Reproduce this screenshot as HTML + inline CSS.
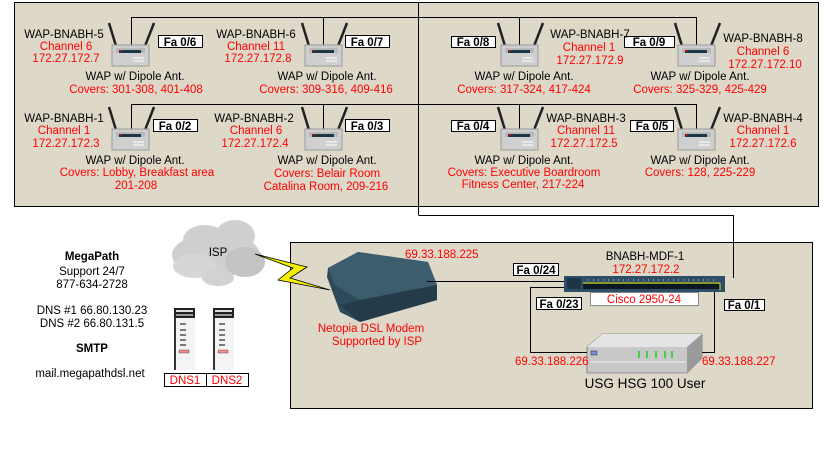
<!DOCTYPE html>
<html><head><meta charset="utf-8"><style>
html,body{margin:0;padding:0;background:#fff;}
svg{display:block;font-family:"Liberation Sans",Arial,sans-serif;font-size:11.5px;}
.r{fill:#ff0000;}
.k{fill:#000;}
.fa{font-weight:bold;font-size:11.5px;}
</style></head><body>
<svg width="833" height="458" viewBox="0 0 833 458" xmlns="http://www.w3.org/2000/svg">
<defs>
<g id="wap">
 <line x1="-21" y1="-22" x2="-14" y2="1" stroke="#222" stroke-width="2.5"/>
 <line x1="24" y1="-22" x2="15" y2="1" stroke="#222" stroke-width="2.5"/>
 <rect x="-18" y="0" width="37" height="21" fill="#cfcfcf" stroke="#9a9a9a"/>
 <rect x="-14" y="3" width="29" height="5" fill="#b8b8b8"/>
 <rect x="-11" y="5" width="22" height="3" fill="#183848"/>
 <rect x="-10" y="5" width="2" height="1.5" fill="#e00"/>
 <line x1="3" y1="13" x2="14" y2="13" stroke="#fff"/>
 <line x1="3" y1="16" x2="14" y2="16" stroke="#fff"/>
</g>
<g id="srv">
 <rect x="0" y="0" width="21" height="62" fill="#f4f4f4"/>
 <rect x="0" y="0" width="21" height="10" fill="#222"/>
 <rect x="2" y="2" width="17" height="2" fill="#ddd"/>
 <rect x="2" y="6" width="17" height="2" fill="#999"/>
 <rect x="0" y="10" width="2" height="52" fill="#333"/>
 <line x1="6" y1="16" x2="12" y2="16" stroke="#000"/>
 <line x1="6" y1="22" x2="12" y2="22" stroke="#000"/>
 <line x1="6" y1="27" x2="12" y2="27" stroke="#000"/>
 <line x1="6" y1="32" x2="12" y2="32" stroke="#000"/>
 <line x1="6" y1="37" x2="12" y2="37" stroke="#000"/>
 <rect x="5" y="42" width="10" height="3" fill="#f88" stroke="#555" stroke-width="0.5"/>
</g>
</defs>

<!-- top box -->
<rect x="14.5" y="2.5" width="804" height="204" fill="#ded8c9" stroke="#000"/>
<!-- bottom box -->
<rect x="290.5" y="242.5" width="522" height="166" fill="#ded8c9" stroke="#000"/>

<!-- top lines -->
<g stroke="#000" fill="none">
<line x1="418.5" y1="3" x2="418.5" y2="215"/>
<polyline points="418.5,215.5 733.5,215.5 733.5,278"/>
<polyline points="131.5,46 131.5,17.5 696.5,17.5 696.5,46"/>
<line x1="323.5" y1="17" x2="323.5" y2="46"/>
<line x1="519.5" y1="17" x2="519.5" y2="46"/>
<polyline points="131.5,130 131.5,104.5 696.5,104.5 696.5,130"/>
<line x1="323.5" y1="104" x2="323.5" y2="130"/>
<line x1="519.5" y1="104" x2="519.5" y2="130"/>
</g>

<!-- WAPs -->
<use href="#wap" x="130" y="45"/>
<use href="#wap" x="323" y="45"/>
<use href="#wap" x="519" y="45"/>
<use href="#wap" x="696" y="45"/>
<use href="#wap" x="130" y="129"/>
<use href="#wap" x="323" y="129"/>
<use href="#wap" x="519" y="129"/>
<use href="#wap" x="696" y="129"/>

<!-- Fa boxes top -->
<g fill="#fff" stroke="#000">
<rect x="158.5" y="35.5" width="44" height="12"/>
<rect x="345.5" y="35.5" width="44" height="12"/>
<rect x="451.5" y="36.5" width="44" height="11"/>
<rect x="624.5" y="36.5" width="50" height="11"/>
<rect x="153.5" y="119.5" width="44" height="12"/>
<rect x="345.5" y="119.5" width="44" height="12"/>
<rect x="451.5" y="120.5" width="44" height="11"/>
<rect x="630.5" y="120.5" width="43" height="11"/>
</g>
<g class="fa k" text-anchor="middle">
<text x="180" y="46">Fa 0/6</text>
<text x="367" y="46">Fa 0/7</text>
<text x="473" y="46">Fa 0/8</text>
<text x="649" y="46">Fa 0/9</text>
<text x="175" y="130">Fa 0/2</text>
<text x="367" y="130">Fa 0/3</text>
<text x="473" y="130">Fa 0/4</text>
<text x="652" y="130">Fa 0/5</text>
</g>

<!-- row 1 labels -->
<g text-anchor="middle">
<text x="64" y="38" class="k">WAP-BNABH-5</text>
<text x="66" y="50" class="r">Channel 6</text>
<text x="66" y="62" class="r">172.27.172.7</text>
<text x="135" y="80" class="k">WAP w/ Dipole Ant.</text>
<text x="136" y="93" class="r">Covers: 301-308, 401-408</text>

<text x="256" y="38" class="k">WAP-BNABH-6</text>
<text x="256" y="50" class="r">Channel 11</text>
<text x="258" y="62" class="r">172.27.172.8</text>
<text x="327" y="80" class="k">WAP w/ Dipole Ant.</text>
<text x="326" y="93" class="r">Covers: 309-316, 409-416</text>

<text x="590" y="38" class="k">WAP-BNABH-7</text>
<text x="589" y="51" class="r">Channel 1</text>
<text x="590" y="64" class="r">172.27.172.9</text>
<text x="524" y="80" class="k">WAP w/ Dipole Ant.</text>
<text x="524" y="93" class="r">Covers: 317-324, 417-424</text>

<text x="763" y="42" class="k">WAP-BNABH-8</text>
<text x="763" y="55" class="r">Channel 6</text>
<text x="765" y="68" class="r">172.27.172.10</text>
<text x="700" y="80" class="k">WAP w/ Dipole Ant.</text>
<text x="700" y="93" class="r">Covers: 325-329, 425-429</text>

<!-- row 2 -->
<text x="64" y="122" class="k">WAP-BNABH-1</text>
<text x="64" y="134" class="r">Channel 1</text>
<text x="66" y="147" class="r">172.27.172.3</text>
<text x="135" y="164" class="k">WAP w/ Dipole Ant.</text>
<text x="137" y="176" class="r">Covers: Lobby, Breakfast area</text>
<text x="136" y="189" class="r">201-208</text>

<text x="254" y="122" class="k">WAP-BNABH-2</text>
<text x="256" y="134" class="r">Channel 6</text>
<text x="255" y="147" class="r">172.27.172.4</text>
<text x="327" y="164" class="k">WAP w/ Dipole Ant.</text>
<text x="327" y="177" class="r">Covers: Belair Room</text>
<text x="326" y="190" class="r">Catalina Room, 209-216</text>

<text x="586" y="122" class="k">WAP-BNABH-3</text>
<text x="586" y="134" class="r">Channel 11</text>
<text x="584" y="147" class="r">172.27.172.5</text>
<text x="524" y="164" class="k">WAP w/ Dipole Ant.</text>
<text x="524" y="176" class="r">Covers: Executive Boardroom</text>
<text x="523" y="188" class="r">Fitness Center, 217-224</text>

<text x="763" y="122" class="k">WAP-BNABH-4</text>
<text x="763" y="134" class="r">Channel 1</text>
<text x="763" y="147" class="r">172.27.172.6</text>
<text x="700" y="164" class="k">WAP w/ Dipole Ant.</text>
<text x="700" y="176" class="r">Covers: 128, 225-229</text>
</g>

<!-- left info -->
<g text-anchor="middle" class="k">
<text x="92" y="260" font-weight="bold">MegaPath</text>
<text x="92" y="275">Support 24/7</text>
<text x="92" y="288">877-634-2728</text>
<text x="92" y="314">DNS #1 66.80.130.23</text>
<text x="92" y="327">DNS #2 66.80.131.5</text>
<text x="92" y="352" font-weight="bold">SMTP</text>
<text x="90" y="377">mail.megapathdsl.net</text>
</g>

<!-- cloud -->
<g fill="#cfcfcf">
<ellipse cx="216" cy="255" rx="44" ry="22"/>
<ellipse cx="205" cy="240" rx="22" ry="15"/>
<ellipse cx="235" cy="236" rx="20" ry="16"/>
<ellipse cx="245" cy="262" rx="20" ry="15" fill="#c4c4c4"/>
<ellipse cx="195" cy="266" rx="22" ry="12" fill="#d6d6d6"/>
<ellipse cx="218" cy="278" rx="16" ry="8" fill="#d2d2d2"/>
</g>
<text x="218" y="256" text-anchor="middle" class="k">ISP</text>
<!-- lightning -->
<polygon points="255,254 307,267 290,278 330,290 278,280 293,268" fill="#f5f000" stroke="#000" stroke-width="0.8"/>

<!-- DNS servers -->
<use href="#srv" x="174" y="308"/>
<use href="#srv" x="213" y="308"/>
<rect x="164.5" y="373.5" width="84" height="13" fill="#fff" stroke="#000"/>
<line x1="206.5" y1="373" x2="206.5" y2="387" stroke="#000"/>
<text x="185" y="384" text-anchor="middle" class="r">DNS1</text>
<text x="227" y="384" text-anchor="middle" class="r">DNS2</text>

<!-- modem -->
<polygon points="328,268 358,252 428,262 437,285 437,300 360,322 340,312 327,277" fill="#2e4a5a"/>
<polygon points="328,268 358,252 428,262 437,285 360,300 335,285" fill="#3d5c6e"/>
<polygon points="340,305 360,300 437,285 437,300 360,322" fill="#243c4a"/>
<text x="371" y="332" text-anchor="middle" class="r">Netopia DSL Modem</text>
<text x="377" y="345" text-anchor="middle" class="r">Supported by ISP</text>
<text x="405" y="258" class="r">69.33.188.225</text>

<!-- connections bottom -->
<g stroke="#000" fill="none">
<line x1="427" y1="281.5" x2="566" y2="281.5"/>
<polyline points="573,287.5 530.5,287.5 530.5,352.5 588,352.5"/>
<polyline points="714.5,292 714.5,352.5 702,352.5"/>
</g>

<!-- switch -->
<rect x="564" y="276" width="161" height="16" fill="#2e4d66"/>
<rect x="567" y="278" width="14" height="11" fill="#1d3446"/>
<rect x="583" y="284" width="137" height="5" fill="#0d1a24"/>
<line x1="583" y1="283" x2="720" y2="283" stroke="#e8e000"/>
<line x1="720" y1="283" x2="720" y2="290" stroke="#e8e000"/>
<line x1="588" y1="280" x2="715" y2="280" stroke="#cfd8e0" stroke-dasharray="1,4"/>
<rect x="590.5" y="292.5" width="108" height="13" fill="#fff" stroke="#888"/>
<text x="644" y="303" text-anchor="middle" class="r">Cisco 2950-24</text>
<text x="645" y="260" text-anchor="middle" class="k">BNABH-MDF-1</text>
<text x="646" y="273" text-anchor="middle" class="r">172.27.172.2</text>

<g fill="#fff" stroke="#000">
<rect x="513.5" y="263.5" width="45" height="12"/>
<rect x="536.5" y="297.5" width="45" height="12"/>
<rect x="724.5" y="299.5" width="40" height="11"/>
</g>
<g class="fa k" text-anchor="middle">
<text x="536" y="274">Fa 0/24</text>
<text x="559" y="308">Fa 0/23</text>
<text x="744" y="309">Fa 0/1</text>
</g>

<!-- USG -->
<polygon points="587,347 602,334 702,334 702,358 687,373 587,373" fill="#c8c8c8" stroke="#555" stroke-width="0.6"/>
<polygon points="587,347 602,334 702,334 687,347" fill="#e4e4e4"/>
<polygon points="687,347 702,334 702,358 687,373" fill="#9a9a9a"/>
<rect x="591" y="351" width="6" height="4" fill="#8090d0" stroke="#223" stroke-width="0.5"/>
<g stroke="#00d000" stroke-width="1.3">
<line x1="639" y1="351" x2="639" y2="358"/><line x1="647" y1="351" x2="647" y2="358"/>
<line x1="656" y1="351" x2="656" y2="358"/><line x1="665" y1="351" x2="665" y2="358"/>
<line x1="672" y1="351" x2="672" y2="358"/>
</g>
<line x1="590" y1="362" x2="686" y2="362" stroke="#eee"/>
<text x="515" y="365" class="r">69.33.188.226</text>
<text x="702" y="365" class="r">69.33.188.227</text>
<text x="645" y="388" text-anchor="middle" font-size="13.5" class="k">USG HSG 100 User</text>
</svg>
</body></html>
